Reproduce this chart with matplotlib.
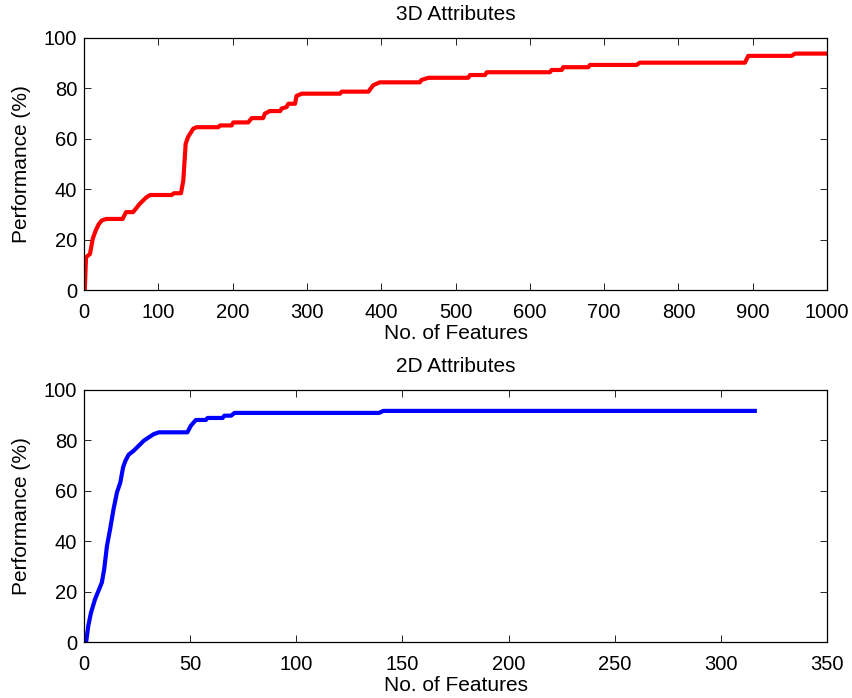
import matplotlib
matplotlib.use('Agg')
import matplotlib.pyplot as plt

plt.rcParams['font.family'] = ['Liberation Sans', 'DejaVu Sans']

# ── Data ─────────────────────────────────────────────────────────────────────
# 3D attributes: performance vs number of features
feat_3d = [1, 2.7, 8, 11.7, 15.7, 20, 24, 30, 52, 56.5, 66, 75, 84, 89, 118, 121,
           130.5, 133.6, 135.5, 136.8, 140, 147, 151.6, 180.7, 183, 198.7, 201, 221,
           225.6, 241, 243.5, 250, 264, 266, 272.6, 275, 284, 286, 293, 344.6, 346.7,
           382.7, 389.4, 398, 452, 454, 463.4, 517, 519.5, 539.7, 542, 627, 629.4,
           643, 645, 678.7, 681, 743.8, 748, 889.6, 894, 952.4, 957, 1000]
perf_3d = [0, 13, 14.3, 20.3, 23.6, 26.2, 27.6, 28.2, 28.2, 30.9, 30.9, 34.2, 36.8,
           37.7, 37.7, 38.4, 38.4, 43.4, 52, 58, 60.7, 64, 64.6, 64.6, 65.3, 65.3,
           66.5, 66.5, 68.2, 68.2, 70, 71, 71, 72, 72.6, 73.9, 73.9, 77, 77.9, 77.9,
           78.7, 78.7, 81.3, 82.4, 82.4, 83.3, 84.2, 84.2, 85.3, 85.3, 86.4, 86.4,
           87.3, 87.3, 88.4, 88.4, 89.3, 89.3, 90.2, 90.2, 92.9, 92.9, 93.8, 93.8]

# 2D attributes
feat_2d = [1, 2, 3.3, 5.2, 6.8, 8.4, 9.5, 10.8, 12.3, 13.9, 15.5, 17.1, 18.4, 19.5,
           21, 23.4, 25.8, 28.2, 30.5, 32.9, 35.3, 48.7, 50.3, 52.7, 57.4, 58.2, 65.3,
           66.1, 69.3, 70.9, 139, 141, 316]
perf_2d = [0, 6.4, 11.7, 17, 20.3, 23.6, 28.9, 38.1, 44.8, 52.7, 59.3, 63.3, 69.3,
           71.9, 74.3, 75.9, 77.9, 79.9, 81.2, 82.5, 83.2, 83.2, 85.8, 88.1, 88.1, 88.9,
           88.9, 89.8, 89.8, 90.9, 90.9, 91.7, 91.7]

# ── Plot ──────────────────────────────────────────────────────────────────────
fs = 14.5
fig = plt.figure(figsize=(8.53, 6.98), dpi=100)
ax1 = fig.add_axes([0.0985, 0.5845, 0.871, 0.3611])
ax2 = fig.add_axes([0.0985, 0.0802, 0.871, 0.3611])

ax1.plot(feat_3d, perf_3d, color='#ff0000', linewidth=3)
ax1.set_xlim(0, 1000)
ax1.set_xticks(range(0, 1001, 100))
ax1.set_title('3D Attributes', fontsize=15, pad=13)

ax2.plot(feat_2d, perf_2d, color='#0000ff', linewidth=3)
ax2.set_xlim(0, 350)
ax2.set_xticks(range(0, 351, 50))
ax2.set_title('2D Attributes', fontsize=15, pad=13)

for ax in (ax1, ax2):
    ax.set_ylim(0, 100)
    ax.set_yticks(range(0, 101, 20))
    ax.set_xlabel('No. of Features', fontsize=15, labelpad=2)
    ax.set_ylabel('Performance (%)', fontsize=15, labelpad=9)
    ax.tick_params(direction='in', top=True, right=True, length=5, width=0.6,
                   labelsize=fs)
    ax.tick_params(axis='x', pad=9)
    ax.tick_params(axis='y', pad=5)
    for sp in ax.spines.values():
        sp.set_linewidth(0.9)

fig.savefig('out.png', dpi=100)
